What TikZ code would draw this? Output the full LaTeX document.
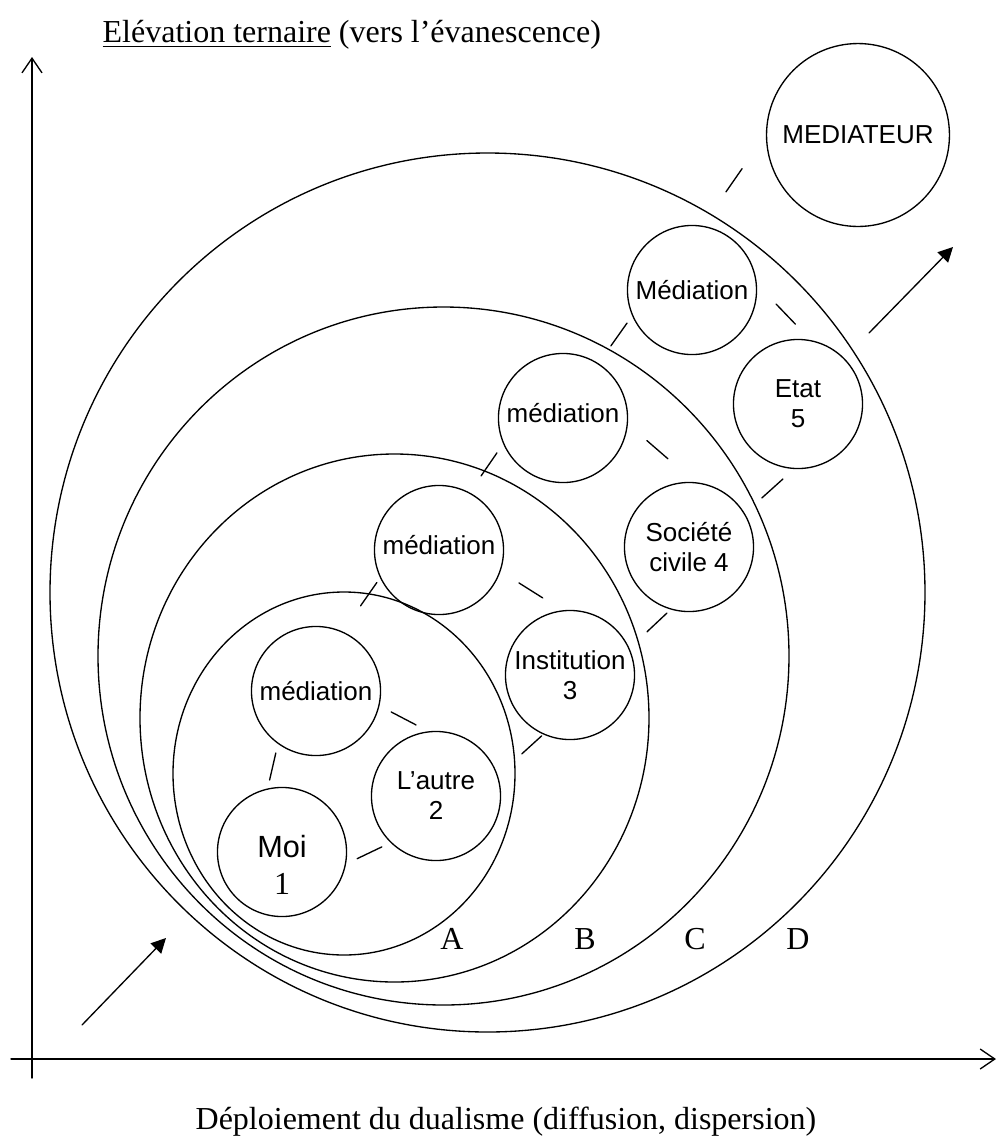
\documentclass[tikz,border=0pt]{standalone}
\usepackage{fontspec}
\setmainfont{Liberation Serif}
\setsansfont{Liberation Sans}
\usetikzlibrary{arrows.meta}

\begin{document}
\begin{tikzpicture}[x=0.375pt, y=-0.375pt, line width=0.5pt, line cap=round,
  font=\fontsize{12}{14.4}\selectfont,
  cell/.style={draw, circle, inner sep=0pt, outer sep=0pt, minimum size=48.4pt,
    align=center, font=\sffamily\fontsize{9.75}{11.25}\selectfont},
  tie/.style 2 args={shorten <=#1, shorten >=#2},
  axis/.style={-{Straight Barb[length=5.5pt, width=7.5pt]}},
  push/.style={-{Triangle[length=5.5pt, width=5.5pt]}}]
  \useasboundingbox (0,0) rectangle (997,1138);
  % ---------- axes ----------
  \coordinate (yfoot) at (32,1078);
  \coordinate (ytip) at (32,57);
  \coordinate (xfoot) at (11,1059);
  \coordinate (xtip) at (996,1059);
  \draw[axis] (yfoot) -- (ytip);
  \draw[axis] (xfoot) -- (xtip);
  \node[anchor=base west, inner sep=0pt] (title) at (102,42) {\underline{Elévation ternaire} (vers l’évanescence)};
  \node[anchor=base] (xlabel) at (506,1129) {Déploiement du dualisme (diffusion, dispersion)};
  % ---------- nested zones A-D ----------
  \draw (487.5,592.5) ellipse [x radius=437.5, y radius=439.5];
  \draw (443.5,656) ellipse [x radius=345.5, y radius=349];
  \draw (394.5,718) ellipse [x radius=254.5, y radius=264];
  \draw (344,773.5) ellipse [x radius=171, y radius=181.5];
  \foreach \n/\x in {A/452, B/585, C/695, D/798}
    {\node (zone\n) at (\x,939) {\n};}
  % ---------- cells ----------
  \node[cell, label={[name=moitxt, yshift=-4.7pt, align=center,
    font=\sffamily\fontsize{11.5}{13.9}\selectfont]center:Moi\\{\rmfamily\fontsize{12}{13.9}\selectfont 1}}]
    (moi) at (282,852) {};
  \node[cell] (autre) at (436,796) {L’autre\\2};
  \node[cell] (medA) at (316,691) {médiation};
  \node[cell] (inst) at (570,675) {Institution\\3};
  \node[cell, text depth=4.1pt] (medB) at (439,550) {médiation};
  \node[cell] (soc) at (689,547) {Société\\civile 4};
  \node[cell, text depth=3.7pt] (medC) at (563,418) {médiation};
  \node[cell] (etat) at (798,404) {Etat\\5};
  \node[cell] (medD) at (692,290) {Médiation};
  \node[cell, minimum size=68.6pt] (mediateur) at (858,135) {MEDIATEUR};
  % ---------- short ties between cells ----------
  \foreach \a/\b/\s/\t in {moi.103/medA.-126/3.5pt/3.75pt, moi.-11/autre.-134/4.9pt/3.9pt,
      medA.-13/autre.96/5.2pt/5.6pt, autre.18/inst.-114/12.4pt/1.1pt,
      medA.66/medB.-155/12pt/2.4pt, medB.-19/inst.96/8.4pt/9.1pt,
      inst.24/soc.-106/9.3pt/2.2pt, medB.62/medC.-157/7.8pt/4.4pt,
      medC.-5/soc.84/9.75pt/13.8pt, soc.31/etat.-93/8.9pt/5.9pt,
      medC.57/medD.-157/8.25pt/3.6pt, medD.6/etat.78/10.8pt/8.7pt,
      medD.81/mediateur.179/15.7pt/16.1pt}
    {\draw[tie={\s}{\t}] (\a) -- (\b);}
  % ---------- in / out arrows ----------
  \coordinate (inS) at (82,1025);
  \coordinate (inE) at (166,938);
  \coordinate (outS) at (869,333);
  \coordinate (outE) at (953,247);
  \draw[push] (inS) -- (inE);
  \draw[push] (outS) -- (outE);
\end{tikzpicture}
\end{document}
